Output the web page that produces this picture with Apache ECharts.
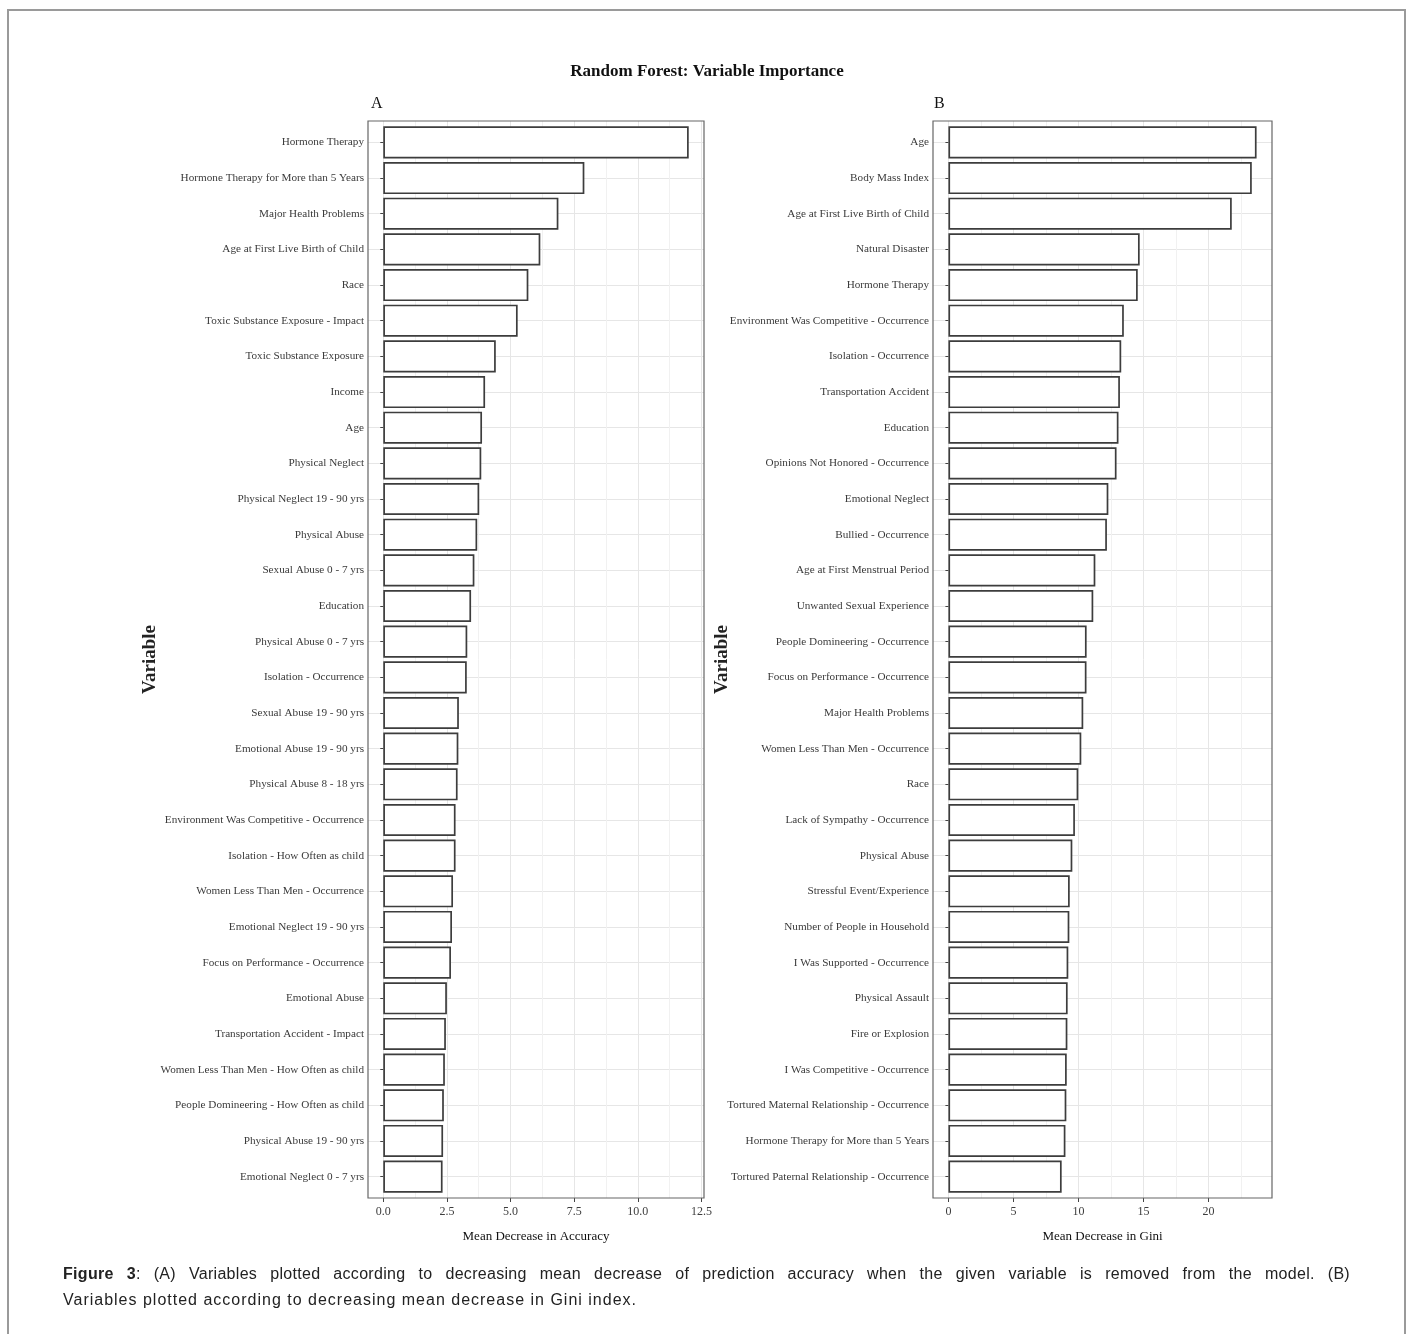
<!DOCTYPE html>
<html>
<head>
<meta charset="utf-8">
<script src="https://cdn.jsdelivr.net/npm/echarts@6/dist/echarts.min.js"></script>
<style>
html,body{margin:0;padding:0;background:#fff;width:1414px;height:1334px;overflow:hidden;}
#frame{position:absolute;left:7px;top:9px;width:1399px;height:1340px;border:2px solid #9a9a9a;box-sizing:border-box;}
#chart{position:absolute;left:0;top:0;width:1414px;height:1334px;}
#caption{position:absolute;left:63px;top:1261px;width:1287px;font-family:"Liberation Sans",Arial,sans-serif;font-size:16px;letter-spacing:1px;line-height:26px;color:#222;}
#caption .l1{text-align:justify;text-align-last:justify;letter-spacing:0.3px;}
</style>
</head>
<body>
<div id="frame"></div>
<div id="chart"></div>
<div id="caption">
<div class="l1"><b>Figure 3</b>: (A) Variables plotted according to decreasing mean decrease of prediction accuracy when the given variable is removed from the model. (B)</div>
<div>Variables plotted according to decreasing mean decrease in Gini index.</div>
</div>
<script>
// ---------------- DATA ----------------
const titleText = 'Random Forest: Variable Importance';
const panelLabels = ['A', 'B'];
const yAxisTitle = 'Variable';
const axisTitleA = 'Mean Decrease in Accuracy';
const axisTitleB = 'Mean Decrease in Gini';

const categoriesA = [
  'Hormone Therapy',
  'Hormone Therapy for More than 5 Years',
  'Major Health Problems',
  'Age at First Live Birth of Child',
  'Race',
  'Toxic Substance Exposure - Impact',
  'Toxic Substance Exposure',
  'Income',
  'Age',
  'Physical Neglect',
  'Physical Neglect 19 - 90 yrs',
  'Physical Abuse',
  'Sexual Abuse 0 - 7 yrs',
  'Education',
  'Physical Abuse 0 - 7 yrs',
  'Isolation - Occurrence',
  'Sexual Abuse 19 - 90 yrs',
  'Emotional Abuse 19 - 90 yrs',
  'Physical Abuse 8 - 18 yrs',
  'Environment Was Competitive - Occurrence',
  'Isolation - How Often as child',
  'Women Less Than Men - Occurrence',
  'Emotional Neglect 19 - 90 yrs',
  'Focus on Performance - Occurrence',
  'Emotional Abuse',
  'Transportation Accident - Impact',
  'Women Less Than Men - How Often as child',
  'People Domineering - How Often as child',
  'Physical Abuse 19 - 90 yrs',
  'Emotional Neglect 0 - 7 yrs'
];
const valuesA = [
  12.0, 7.90, 6.88, 6.17, 5.70, 5.28, 4.42, 4.00, 3.88, 3.85,
  3.77, 3.69, 3.58, 3.45, 3.30, 3.28, 2.97, 2.95, 2.92, 2.84,
  2.84, 2.74, 2.70, 2.66, 2.50, 2.46, 2.42, 2.38, 2.35, 2.33
];

const categoriesB = [
  'Age',
  'Body Mass Index',
  'Age at First Live Birth of Child',
  'Natural Disaster',
  'Hormone Therapy',
  'Environment Was Competitive - Occurrence',
  'Isolation - Occurrence',
  'Transportation Accident',
  'Education',
  'Opinions Not Honored - Occurrence',
  'Emotional Neglect',
  'Bullied - Occurrence',
  'Age at First Menstrual Period',
  'Unwanted Sexual Experience',
  'People Domineering - Occurrence',
  'Focus on Performance - Occurrence',
  'Major Health Problems',
  'Women Less Than Men - Occurrence',
  'Race',
  'Lack of Sympathy - Occurrence',
  'Physical Abuse',
  'Stressful Event/Experience',
  'Number of People in Household',
  'I Was Supported - Occurrence',
  'Physical Assault',
  'Fire or Explosion',
  'I Was Competitive - Occurrence',
  'Tortured Maternal Relationship - Occurrence',
  'Hormone Therapy for More than 5 Years',
  'Tortured Paternal Relationship - Occurrence'
];
const valuesB = [
  23.70, 23.33, 21.79, 14.71, 14.56, 13.49, 13.29, 13.19, 13.08, 12.93,
  12.30, 12.19, 11.30, 11.14, 10.63, 10.62, 10.37, 10.22, 9.99, 9.73,
  9.53, 9.33, 9.30, 9.22, 9.17, 9.15, 9.10, 9.07, 9.00, 8.71
];

const ticksA = [0, 2.5, 5, 7.5, 10, 12.5];
const ticksB = [0, 5, 10, 15, 20];

// ---------------- LAYOUT / STYLE ----------------
const SERIF = '"Liberation Serif","Times New Roman",serif';
const PANEL_TOP = 121, PANEL_H = 1077;
const panels = [
  { left: 368, width: 336, cats: categoriesA, vals: valuesA, ticks: ticksA,
    fmt: v => Number(v).toFixed(1), xTitle: axisTitleA, nameGap: 208, label: panelLabels[0], labelLeft: 366 },
  { left: 933, width: 339, cats: categoriesB, vals: valuesB, ticks: ticksB,
    fmt: v => String(Math.round(v)), xTitle: axisTitleB, nameGap: 201, label: panelLabels[1], labelLeft: 929 }
];

const grid = [], xAxis = [], yAxis = [], series = [];
const title = [{
  text: titleText, left: 'center', top: 58,
  textStyle: { fontFamily: SERIF, fontWeight: 'bold', fontSize: 17, color: '#111' }
}];

panels.forEach((p, k) => {
  const max = Math.max(...p.vals);
  const lo = -0.05 * max, hi = 1.05 * max;
  const x0 = p.left + p.width * (-lo) / (hi - lo);
  const n = p.cats.length;
  const band = PANEL_H / (n + 0.2);
  const barTop = PANEL_TOP + 0.1 * band;
  const interval = p.ticks[1] - p.ticks[0];
  const g = 3 * k;

  title.push({ text: p.label, left: p.labelLeft, top: 91,
    textStyle: { fontFamily: SERIF, fontWeight: 'normal', fontSize: 16, color: '#111' } });

  // frame grid (panel border + x-axis title)
  grid.push({ left: p.left, top: PANEL_TOP, width: p.width, height: PANEL_H, show: true,
    borderColor: '#666', borderWidth: 1.2, backgroundColor: 'transparent', z: 5 });
  // tick/gridline grid starting at value 0
  grid.push({ left: x0, top: PANEL_TOP, width: p.left + p.width - x0, height: PANEL_H });
  // bar grid (discrete expansion of 0.6 band)
  grid.push({ left: p.left, top: barTop, width: p.width, height: band * n });

  xAxis.push({ gridIndex: g, type: 'value', min: lo, max: hi,
    axisLine: { show: false }, axisTick: { show: false }, axisLabel: { show: false }, splitLine: { show: false },
    name: p.xTitle, nameLocation: 'middle', nameGap: 32, nameMoveOverlap: false,
    nameTextStyle: { fontFamily: SERIF, fontSize: 13, color: '#111' } });
  xAxis.push({ gridIndex: g + 1, type: 'value', min: 0, max: hi, interval: interval,
    axisLine: { show: false },
    axisTick: { show: true, length: 4, customValues: p.ticks, lineStyle: { color: '#444' } },
    axisLabel: { customValues: p.ticks, formatter: p.fmt, margin: 8, fontFamily: SERIF, fontSize: 12, color: '#3d3d3d' },
    splitLine: { show: true, lineStyle: { color: '#e6e6e6', width: 1 } },
    minorTick: { show: false, splitNumber: 2 },
    minorSplitLine: { show: true, lineStyle: { color: '#f1f1f1', width: 1 } } });
  xAxis.push({ gridIndex: g + 2, type: 'value', min: lo, max: hi, show: false });

  yAxis.push({ gridIndex: g, type: 'value', show: false });
  yAxis.push({ gridIndex: g + 1, type: 'value', show: false });
  yAxis.push({ gridIndex: g + 2, type: 'category', data: p.cats, inverse: true,
    axisLine: { show: false },
    axisTick: { show: true, length: 3, alignWithLabel: true, lineStyle: { color: '#444' } },
    axisLabel: { interval: 0, margin: 4, fontFamily: SERIF, fontSize: 11.2, color: '#3a3a3a' },
    splitLine: { show: true, alignWithLabel: true, lineStyle: { color: '#e6e6e6', width: 1 } },
    name: yAxisTitle, nameLocation: 'middle', nameGap: p.nameGap, nameRotate: 90, nameMoveOverlap: false,
    nameTextStyle: { fontFamily: SERIF, fontSize: 19, fontWeight: 'bold', color: '#222' } });

  series.push({ type: 'bar', xAxisIndex: g + 2, yAxisIndex: g + 2, data: p.vals,
    barCategoryGap: '10%', silent: true,
    itemStyle: { color: '#ffffff', borderColor: '#3d3d3d', borderWidth: 1.7 } });
});

const chart = echarts.init(document.getElementById('chart'), null, { renderer: 'canvas' });
chart.setOption({ animation: false, title, grid, xAxis, yAxis, series });
</script>
</body>
</html>
